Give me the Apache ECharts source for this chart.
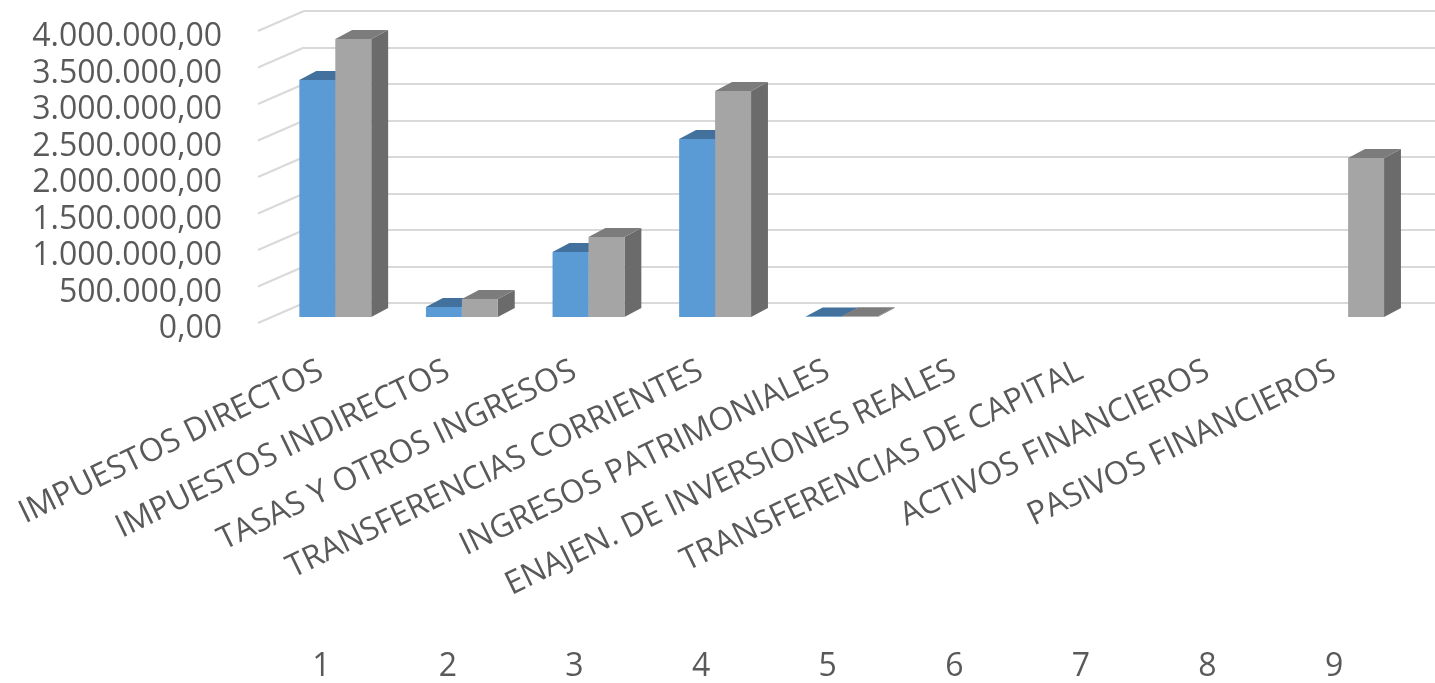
<!DOCTYPE html>
<html>
<head>
<meta charset="utf-8">
<script src="https://cdn.jsdelivr.net/npm/echarts@6/dist/echarts.min.js"></script>
<style>
html,body{margin:0;padding:0;background:#fff;}
#chart{width:1435px;height:683px;}
</style>
</head>
<body>
<div id="chart"></div>
<script>
// ---- data ----
var categoryNames = ['IMPUESTOS DIRECTOS','IMPUESTOS INDIRECTOS','TASAS Y OTROS INGRESOS','TRANSFERENCIAS CORRIENTES','INGRESOS PATRIMONIALES','ENAJEN. DE INVERSIONES REALES','TRANSFERENCIAS DE CAPITAL','ACTIVOS FINANCIEROS','PASIVOS FINANCIEROS'];
var categoryCodes = ['1','2','3','4','5','6','7','8','9'];
var serie1 = [3247000, 137000, 890000, 2438000, 6000, null, null, null, null];
var serie2 = [3808000, 247000, 1096000, 3096000, 10000, null, null, null, 2178000];
var gridTicks = [0, 500000, 1000000, 1500000, 2000000, 2500000, 3000000, 3500000, 4000000];
var yMin = 0, yMax = 4000000, yStep = 500000;

function fmtES(v){
  var s = Math.round(v).toString().replace(/\B(?=(\d{3})+(?!\d))/g, '.');
  return s + ',00';
}

var FONT = 'Open Sans';
var TXT = '#595959';
var W = 1139.4, H = 292;

var chart = echarts.init(document.getElementById('chart'), null, {renderer:'canvas'});

function makeBarRender(side, cFront, cTop, cSide){
  return function(params, api){
    var v = api.value(1);
    if (v === null || v === undefined || isNaN(v)) return;
    var idx = api.value(0);
    var top = api.coord([idx, v]);
    var base = api.coord([idx, 0]);
    var band = api.size([1, 0])[0];
    var bw = band * 0.284;
    var x0 = side === 0 ? top[0] - bw : top[0];
    var dx = bw * 0.47, dy = -bw * 0.25;
    var yt = top[1], yb = base[1];
    return {
      type: 'group',
      children: [
        {type:'polygon', shape:{points:[[x0+bw,yt],[x0+bw+dx,yt+dy],[x0+bw+dx,yb+dy],[x0+bw,yb]]}, style:{fill:cSide}},
        {type:'polygon', shape:{points:[[x0,yt],[x0+bw,yt],[x0+bw+dx,yt+dy],[x0+dx,yt+dy]]}, style:{fill:cTop}},
        {type:'rect', shape:{x:x0, y:yt, width:bw, height:Math.max(yb-yt,0)}, style:{fill:cFront}}
      ]
    };
  };
}

var d1 = serie1.map(function(v,i){ return [i, v]; });
var d2 = serie2.map(function(v,i){ return [i, v]; });
var dTicks = gridTicks.map(function(v){ return [0, v]; });

var option = {
  animation: false,
  backgroundColor: '#ffffff',
  grid: [
    {left: 258, top: 31, width: W, height: H},   // front plane (category labels)
    {left: 272, top: 25, width: W, height: H},   // bar plane
    {left: 304, top: 11, width: W, height: H},   // back wall
    {left: 258, top: 37, width: W, height: H}    // value labels
  ],
  xAxis: [
    {type:'category', gridIndex:0, data: categoryNames, axisLine:{show:false}, axisTick:{show:false},
     axisLabel:{rotate:26, margin:48, interval:0, fontFamily:FONT, fontSize:32, color:TXT}},
    {type:'category', gridIndex:0, data: categoryCodes, position:'bottom', axisLine:{show:false}, axisTick:{show:false},
     axisLabel:{margin:346, interval:0, verticalAlign:'middle', fontFamily:FONT, fontSize:32, color:TXT}},
    {type:'category', gridIndex:1, data: categoryCodes, show:false},
    {type:'category', gridIndex:2, data: categoryCodes, show:false},
    {type:'category', gridIndex:3, data: categoryCodes, show:false}
  ],
  yAxis: [
    {type:'value', gridIndex:0, min:yMin, max:yMax, interval:yStep, show:false, splitLine:{show:false}},
    {type:'value', gridIndex:1, min:yMin, max:yMax, interval:yStep, show:false, splitLine:{show:false}},
    {type:'value', gridIndex:2, min:yMin, max:yMax, interval:yStep, axisLine:{show:false}, axisTick:{show:false}, axisLabel:{show:false},
     splitLine:{show:true, lineStyle:{color:'#D9D9D9', width:2}}},
    {type:'value', gridIndex:3, min:yMin, max:yMax, interval:yStep, axisLine:{show:false}, axisTick:{show:false}, splitLine:{show:false},
     axisLabel:{margin:36, fontFamily:FONT, fontSize:32, color:TXT, formatter: fmtES}}
  ],
  series: [
    {type:'custom', xAxisIndex:3, yAxisIndex:2, data:dTicks, z:1, silent:true,
     renderItem:function(params, api){
       var p = api.coord([0, api.value(1)]);
       var cs = params.coordSys;
       return {type:'line', shape:{x1:cs.x-46, y1:p[1]+20, x2:cs.x, y2:p[1]}, style:{stroke:'#D9D9D9', lineWidth:2}};
     }},
    {name:'Serie 1', type:'custom', xAxisIndex:2, yAxisIndex:1, data:d1, z:3,
     renderItem: makeBarRender(0, '#5B9BD5', '#41719C', '#3A6A96')},
    {name:'Serie 2', type:'custom', xAxisIndex:2, yAxisIndex:1, data:d2, z:4,
     renderItem: makeBarRender(1, '#A5A5A5', '#7C7C7C', '#6B6B6B')}
  ]
};
chart.setOption(option);
</script>
</body>
</html>
